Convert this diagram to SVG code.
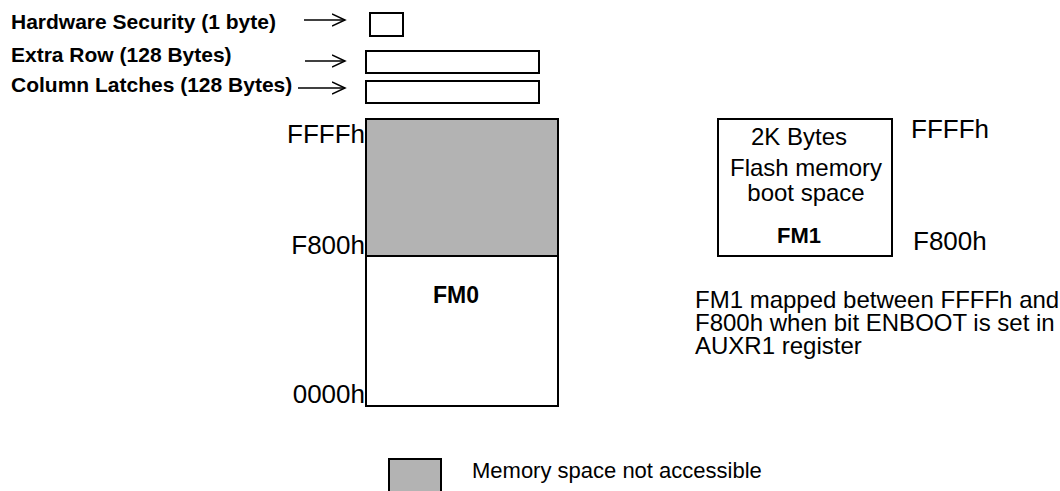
<svg xmlns="http://www.w3.org/2000/svg" width="1060" height="491" viewBox="0 0 1060 491">
<style>
text{font-family:"Liberation Sans",Arial,sans-serif;fill:#000}
.b{font-weight:bold;font-size:21px}
.lab{font-size:26px}
.t{font-size:24px}
.box{fill:#fff;stroke:#000;stroke-width:2}
.gray{fill:#b3b3b3;stroke:#000;stroke-width:2}
.arr{stroke:#000;stroke-width:1.5;fill:none;marker-end:url(#ah)}
</style>
<defs>
<marker id="ah" markerWidth="16" markerHeight="14" refX="13" refY="7" orient="auto" markerUnits="userSpaceOnUse">
<polyline points="0,1 13,7 0,13" fill="none" stroke="#000" stroke-width="1.5"/>
</marker>
</defs>
<g id="hw-security">
<text class="b" x="11" y="29">Hardware Security (1 byte)</text>
<rect class="box" x="370" y="13" width="33" height="23"/>
</g>
<g id="extra-row">
<text class="b" x="11" y="62">Extra Row (128 Bytes)</text>
<rect class="box" x="366" y="51" width="173" height="22"/>
</g>
<g id="column-latches">
<text class="b" x="11" y="92">Column Latches (128 Bytes)</text>
<rect class="box" x="366" y="81" width="173" height="22"/>
</g>
<g id="fm0">
<rect class="box" x="366" y="256" width="192" height="150"/>
<rect class="gray" x="366" y="119" width="192" height="137"/>
<text class="b" x="433" y="303" style="font-size:23px">FM0</text>
<text class="lab" x="365" y="143" text-anchor="end">FFFFh</text>
<text class="lab" x="365" y="254" text-anchor="end">F800h</text>
<text class="lab" x="365" y="403" text-anchor="end">0000h</text>
</g>
<g id="fm1">
<rect class="box" x="718" y="119" width="174" height="137"/>
<text class="t" x="799" y="145" text-anchor="middle">2K Bytes</text>
<text class="t" x="806" y="176" text-anchor="middle">Flash memory</text>
<text class="t" x="806" y="201" text-anchor="middle">boot space</text>
<text class="b" x="799" y="243" text-anchor="middle" style="font-size:22px">FM1</text>
<text class="lab" x="911" y="138">FFFFh</text>
<text class="lab" x="913" y="250">F800h</text>
</g>
<g id="note">
<text class="t" x="695" y="308">FM1 mapped between FFFFh and</text>
<text class="t" x="695" y="331">F800h when bit ENBOOT is set in</text>
<text class="t" x="695" y="354">AUXR1 register</text>
</g>
<g id="legend">
<rect class="gray" x="389" y="459" width="52" height="40"/>
<text class="t" x="472" y="478" style="font-size:22px">Memory space not accessible</text>
</g>
<g id="connectors">
<line class="arr" x1="304" y1="20" x2="345" y2="20"/>
<line class="arr" x1="305" y1="61" x2="345" y2="61"/>
<line class="arr" x1="298" y1="88" x2="345" y2="88"/>
</g>
</svg>
